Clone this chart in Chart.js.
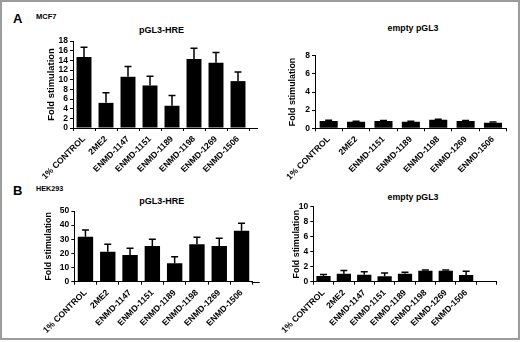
<!DOCTYPE html>
<html>
<head>
<meta charset="utf-8">
<script src="https://cdn.jsdelivr.net/npm/chart.js@4.4.1/dist/chart.umd.min.js"></script>
<style>
  body { margin: 0; background: #fff; }
  #frame { position: absolute; left: 0; top: 0; width: 520px; height: 340px; box-sizing: border-box; border: 2px solid #9c9c9c; }
  canvas { position: absolute; }
  .t { position: absolute; font-family: 'Liberation Sans', Arial, sans-serif; font-weight: bold; line-height: 1; color: #000; white-space: nowrap; }
  .c { width: 200px; text-align: center; }
</style>
</head>
<body>
<div id="frame"></div>

<div class="t" style="left:13px;top:12px;font-size:13px">A</div>
<div class="t" style="left:36px;top:13.4px;font-size:7.5px">MCF7</div>
<div class="t c" style="left:61.5px;top:25.5px;font-size:9px">pGL3-HRE</div>
<div class="t c" style="left:313px;top:23.8px;font-size:8.8px">empty pGL3</div>

<div class="t" style="left:13px;top:184.3px;font-size:13px">B</div>
<div class="t" style="left:36px;top:184.8px;font-size:7.2px">HEK293</div>
<div class="t c" style="left:61.8px;top:196.5px;font-size:9px">pGL3-HRE</div>
<div class="t c" style="left:313px;top:193px;font-size:8.8px">empty pGL3</div>

<canvas id="mcfHre" width="250" height="150" style="left:20px;top:30px"></canvas>
<canvas id="mcfEmpty" width="245" height="140" style="left:270px;top:40px"></canvas>
<canvas id="hekHre" width="250" height="145" style="left:20px;top:195px"></canvas>
<canvas id="hekEmpty" width="245" height="145" style="left:270px;top:195px"></canvas>

<script>
// compounds tested
const drugLabels = ['1% CONTROL', '2ME2', 'ENMD-1147', 'ENMD-1151', 'ENMD-1189', 'ENMD-1198', 'ENMD-1269', 'ENMD-1506'];
const mcfEmptyLabels = ['1% CONTROL', '2ME2', 'ENMD-1151', 'ENMD-1189', 'ENMD-1198', 'ENMD-1269', 'ENMD-1506'];

// MCF7
const mcfHreValues = [14.7, 5.2, 10.6, 8.8, 4.6, 14.3, 13.5, 9.7];
const mcfHreErrors = [2.0, 2.1, 2.1, 1.9, 2.1, 2.2, 2.1, 1.9];
const mcfEmptyValues = [0.80, 0.73, 0.80, 0.73, 0.95, 0.80, 0.62];
const mcfEmptyErrors = [0.08, 0.06, 0.07, 0.06, 0.05, 0.07, 0.07];

// HEK293
const hekHreValues = [31.8, 21.2, 18.9, 25.3, 13.0, 26.4, 25.3, 36.1];
const hekHreErrors = [4.8, 5.2, 4.7, 4.7, 4.7, 5.0, 5.4, 5.2];
const hekEmptyValues = [0.76, 1.05, 0.93, 0.72, 1.07, 1.47, 1.45, 0.90];
const hekEmptyErrors = [0.20, 0.45, 0.40, 0.45, 0.18, 0.10, 0.10, 0.50];

// y axis ranges [max, step]
const mcfHreAxis = [18, 2];
const mcfEmptyAxis = [8, 2];
const hekHreAxis = [50, 10];
const hekEmptyAxis = [10, 2];

Chart.defaults.font.family = "'Liberation Sans', Arial, sans-serif";
Chart.defaults.font.weight = 'bold';
Chart.defaults.color = '#000';

// one-sided error bars + optional x axis extension past the last slot
const errorBars = {
    id: 'errorBars',
    afterDatasetsDraw(chart, args, opts) {
        const ctx = chart.ctx;
        const y = chart.scales.y;
        const vals = chart.data.datasets[0].data;
        ctx.save();
        ctx.strokeStyle = '#000';
        ctx.lineWidth = 1.5;
        chart.getDatasetMeta(0).data.forEach((bar, i) => {
            if (vals[i] == null) return;
            const top = y.getPixelForValue(vals[i] + opts.errors[i]);
            ctx.beginPath();
            ctx.moveTo(bar.x, bar.y);
            ctx.lineTo(bar.x, top);
            ctx.moveTo(bar.x - 3.5, top);
            ctx.lineTo(bar.x + 3.5, top);
            ctx.stroke();
        });
        if (opts.extend) {
            const a = chart.chartArea;
            const yy = Math.round(a.bottom) + 0.5;
            ctx.lineWidth = 1;
            ctx.beginPath();
            ctx.moveTo(a.right - 1, yy);
            ctx.lineTo(a.right + opts.extend, yy);
            ctx.stroke();
        }
        ctx.restore();
    }
};

function makeChart(id, labels, values, errors, axis, o) {
    return new Chart(document.getElementById(id), {
        type: 'bar',
        data: {
            labels: labels,
            datasets: [{
                data: values,
                backgroundColor: '#000',
                barPercentage: o.barPct,
                categoryPercentage: 1
            }]
        },
        options: {
            responsive: false,
            animation: false,
            layout: { padding: o.padding },
            plugins: {
                legend: { display: false },
                tooltip: { enabled: false },
                errorBars: { errors: errors, extend: o.extend }
            },
            scales: {
                x: {
                    grid: { drawOnChartArea: false, tickLength: 3, color: '#000', offset: true },
                    border: { color: '#000', width: 1 },
                    ticks: { minRotation: 45, maxRotation: 45, autoSkip: false, padding: 3, font: { size: 8.6 } },
                    afterFit: s => { s.height = o.xHeight; }
                },
                y: {
                    min: 0,
                    max: axis[0],
                    grid: { drawOnChartArea: false, tickLength: 3, color: '#000' },
                    border: { color: '#000', width: 1 },
                    ticks: { stepSize: axis[1], autoSkip: false, padding: 2, font: { size: 8.5 } },
                    title: {
                        display: true,
                        text: 'Fold stimulation',
                        font: { size: o.titleSize },
                        padding: { top: o.titlePad, bottom: 0 }
                    },
                    afterFit: s => { s.width = o.yWidth; }
                }
            }
        },
        plugins: [errorBars]
    });
}

makeChart('mcfHre', drugLabels, mcfHreValues, mcfHreErrors, mcfHreAxis, {
    padding: { top: 11, right: 21, left: 0, bottom: 0 },
    yWidth: 53, xHeight: 52, titleSize: 9.4, titlePad: 26, barPct: 0.68, extend: 9
});
makeChart('mcfEmpty', mcfEmptyLabels, mcfEmptyValues, mcfEmptyErrors, mcfEmptyAxis, {
    padding: { top: 15.7, right: 8.3, left: 0, bottom: 0 },
    yWidth: 45, xHeight: 51.7, titleSize: 8.9, titlePad: 17.7, barPct: 0.66, extend: 0
});
makeChart('hekHre', drugLabels, hekHreValues, hekHreErrors, hekHreAxis, {
    padding: { top: 16, right: 17.3, left: 0, bottom: 0 },
    yWidth: 54.3, xHeight: 58.3, titleSize: 8.9, titlePad: 23.7, barPct: 0.69, extend: 7
});
// last slot on this axis is left empty
makeChart('hekEmpty', drugLabels.concat(['']), hekEmptyValues, hekEmptyErrors, hekEmptyAxis, {
    padding: { top: 11.7, right: 18.3, left: 0, bottom: 0 },
    yWidth: 43.3, xHeight: 58.3, titleSize: 8.9, titlePad: 21.4, barPct: 0.7, extend: 0
});
</script>
</body>
</html>
